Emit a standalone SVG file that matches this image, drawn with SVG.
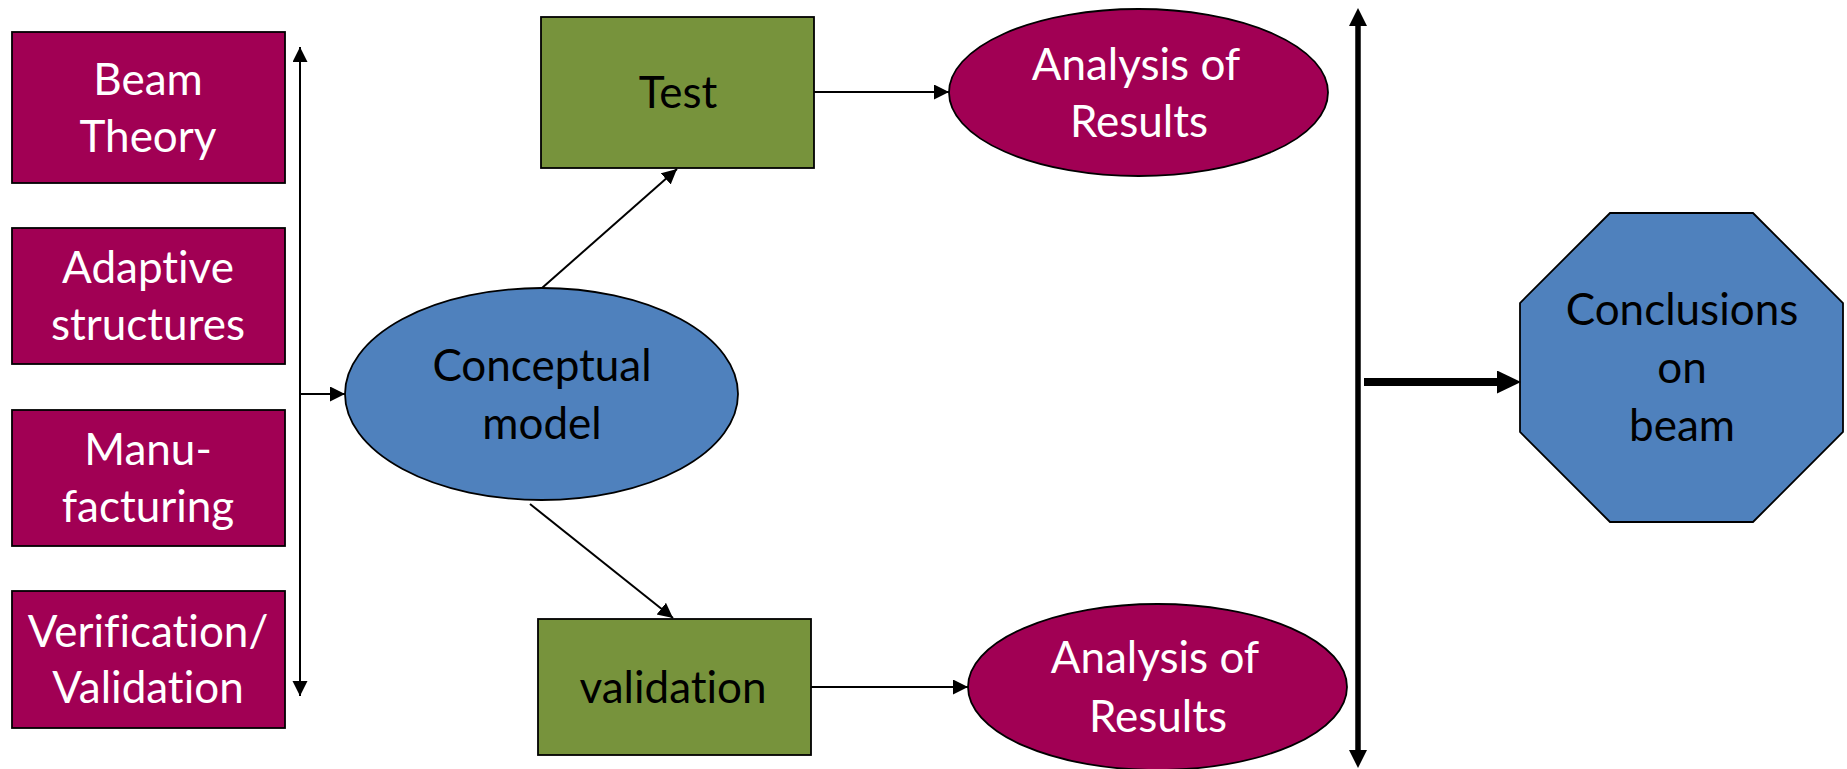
<svg xmlns="http://www.w3.org/2000/svg" width="1847" height="769" viewBox="0 0 1847 769">
<style>
.bg{fill:#ffffff}
.maroon{fill:#A10054;stroke:#000;stroke-width:1.8}
.green{fill:#77933C;stroke:#000;stroke-width:1.8}
.blue{fill:#4F81BD;stroke:#000;stroke-width:1.8}
.tw{font-family:Lato,"Liberation Sans",sans-serif;font-size:44px;fill:#ffffff;text-anchor:middle;font-variant-ligatures:none;font-feature-settings:"liga" 0}
.tb{font-family:Lato,"Liberation Sans",sans-serif;font-size:44px;fill:#000000;text-anchor:middle;font-variant-ligatures:none;font-feature-settings:"liga" 0}
.thin{stroke:#000;stroke-width:2;fill:none}
.thick{stroke:#000;stroke-width:5.5;fill:none}
.thicker{stroke:#000;stroke-width:8;fill:none}
</style>
<defs>
<marker id="ah" markerUnits="userSpaceOnUse" markerWidth="16" markerHeight="16" refX="15" refY="7.5" orient="auto-start-reverse" viewBox="0 0 16 16"><path d="M0,0 L15,7.5 L0,15 z" fill="#000"/></marker>
<marker id="ahv" markerUnits="userSpaceOnUse" markerWidth="20" markerHeight="20" refX="1" refY="9" orient="auto-start-reverse" viewBox="0 0 20 20"><path d="M0,0 L18,9 L0,18 z" fill="#000"/></marker>
<marker id="ahh" markerUnits="userSpaceOnUse" markerWidth="26" markerHeight="26" refX="1" refY="11.5" orient="auto" viewBox="0 0 26 26"><path d="M0,0 L24,11.5 L0,23 z" fill="#000"/></marker>
</defs>
<rect class="bg" x="0" y="0" width="1847" height="769"/>

<g id="beam-theory">
<rect class="maroon" x="12" y="32" width="273" height="151"/>
<text class="tw" x="148" y="95">Beam</text>
<text class="tw" x="148" y="152">Theory</text>
</g>
<g id="adaptive-structures">
<rect class="maroon" x="12" y="228" width="273" height="136"/>
<text class="tw" x="148" y="283">Adaptive</text>
<text class="tw" x="148" y="340">structures</text>
</g>
<g id="manufacturing">
<rect class="maroon" x="12" y="410" width="273" height="136"/>
<text class="tw" x="148" y="465">Manu-</text>
<text class="tw" x="148" y="522">facturing</text>
</g>
<g id="verification-validation">
<rect class="maroon" x="12" y="591" width="273" height="137"/>
<text class="tw" x="148" y="647">Verification/</text>
<text class="tw" x="148" y="703">Validation</text>
</g>

<g id="conceptual-model">
<ellipse class="blue" cx="541.5" cy="394" rx="196.5" ry="106"/>
<text class="tb" x="542" y="381">Conceptual</text>
<text class="tb" x="542" y="439">model</text>
</g>

<g id="test">
<rect class="green" x="541" y="17" width="273" height="151"/>
<text class="tb" x="678" y="108">Test</text>
</g>
<g id="validation">
<rect class="green" x="538" y="619" width="273" height="136"/>
<text class="tb" x="673" y="703">validation</text>
</g>

<g id="analysis-top">
<ellipse class="maroon" cx="1138.5" cy="92.5" rx="189.5" ry="83.5"/>
<text class="tw" x="1136" y="80">Analysis of</text>
<text class="tw" x="1139" y="137">Results</text>
</g>
<g id="analysis-bottom">
<ellipse class="maroon" cx="1157.5" cy="687" rx="189.5" ry="83"/>
<text class="tw" x="1155" y="673">Analysis of</text>
<text class="tw" x="1158" y="732">Results</text>
</g>

<g id="conclusions">
<polygon class="blue" points="1610,213 1753,213 1843,303 1843,432 1753,522 1610,522 1520,432 1520,303"/>
<text class="tb" x="1682" y="325">Conclusions</text>
<text class="tb" x="1682" y="383">on</text>
<text class="tb" x="1682" y="441">beam</text>
</g>

<g id="connectors">
<line class="thin" x1="300" y1="47" x2="300" y2="696" marker-start="url(#ah)" marker-end="url(#ah)"/>
<line class="thin" x1="300" y1="394" x2="345" y2="394" marker-end="url(#ah)"/>
<line class="thin" x1="542" y1="288" x2="677" y2="169" marker-end="url(#ah)"/>
<line class="thin" x1="530" y1="504" x2="673" y2="618" marker-end="url(#ah)"/>
<line class="thin" x1="814" y1="92" x2="949" y2="92" marker-end="url(#ah)"/>
<line class="thin" x1="811" y1="687" x2="968" y2="687" marker-end="url(#ah)"/>
<line class="thick" x1="1358" y1="25" x2="1358" y2="751" marker-start="url(#ahv)" marker-end="url(#ahv)"/>
<line class="thicker" x1="1364" y1="382" x2="1498" y2="382" marker-end="url(#ahh)"/>
</g>
</svg>
